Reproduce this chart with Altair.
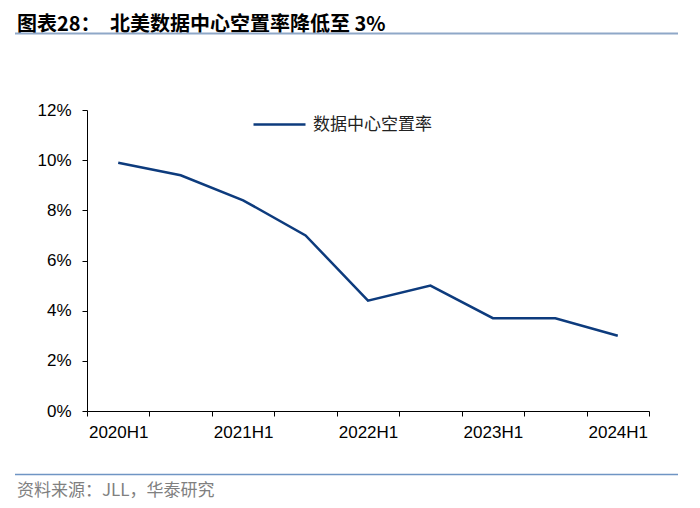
import altair as alt
import pandas as pd

# ---- data ----
periods = ["2020H1", "2020H2", "2021H1", "2021H2", "2022H1",
           "2022H2", "2023H1", "2023H2", "2024H1"]
vacancy = [9.9, 9.4, 8.4, 7.0, 4.4, 5.0, 3.7, 3.7, 3.0]
series_name = "数据中心空置率"
title_prefix = "图表28："
title_main = "北美数据中心空置率降低至 3%"
source_text = "资料来源：JLL，华泰研究"
y_ticks = [0, 2, 4, 6, 8, 10, 12]

df = pd.DataFrame({"period": periods, "vacancy": vacancy, "series": series_name})

W, H = 562, 301
LABEL_FONT = "Liberation Sans"
CJK_FONT = "Noto Sans CJK SC"

line = alt.Chart(df).mark_line(strokeWidth=2.5).encode(
    x=alt.X(
        "period:N",
        sort=periods,
        scale=alt.Scale(type="band", paddingInner=0, paddingOuter=0),
        axis=alt.Axis(
            title=None,
            labelAngle=0,
            labelExpr="indexof(datum.label, 'H1') > 0 ? datum.label : ''",
            tickBand="extent",
            tickSize=5,
            tickColor="#000",
            domainColor="#000",
            labelFont=LABEL_FONT,
            labelFontSize=17,
            labelColor="#000",
            labelPadding=8,
            grid=False,
        ),
    ),
    y=alt.Y(
        "vacancy:Q",
        scale=alt.Scale(domain=[0, 12], nice=False, zero=True),
        axis=alt.Axis(
            title=None,
            values=y_ticks,
            labelExpr="datum.value + '%'",
            tickSize=5,
            tickColor="#000",
            domainColor="#000",
            labelFont=LABEL_FONT,
            labelFontSize=17,
            labelColor="#000",
            labelPadding=11,
            grid=False,
        ),
    ),
    color=alt.Color(
        "series:N",
        scale=alt.Scale(range=["#0D3B7D"]),
        legend=alt.Legend(
            title=None,
            orient="none",
            legendX=165,
            legendY=-13,
            padding=0,
            symbolType="stroke",
            symbolSize=2704,
            symbolStrokeWidth=2.5,
            labelFont=CJK_FONT,
            labelFontSize=17,
            labelColor="#222",
            labelOffset=6,
        ),
    ),
)

title1 = alt.Chart(pd.DataFrame({"t": [title_prefix]})).mark_text(
    align="left", baseline="middle", font=CJK_FONT, fontSize=20,
    fontWeight="bold", color="#000"
).encode(text="t:N", x=alt.value(-70), y=alt.value(-85))

title2 = alt.Chart(pd.DataFrame({"t": [title_main]})).mark_text(
    align="left", baseline="middle", font=CJK_FONT, fontSize=20,
    fontWeight="bold", color="#000"
).encode(text="t:N", x=alt.value(23), y=alt.value(-85))

top_rule = alt.Chart(pd.DataFrame({"a": [0]})).mark_rule(
    color="#8FA8C8", strokeWidth=2
).encode(x=alt.value(-72), x2=alt.value(591), y=alt.value(-76.5))

bottom_rule = alt.Chart(pd.DataFrame({"a": [0]})).mark_rule(
    color="#6F95C4", strokeWidth=1.5
).encode(x=alt.value(-72), x2=alt.value(591), y=alt.value(364.5))

footer = alt.Chart(pd.DataFrame({"t": [source_text]})).mark_text(
    align="left", baseline="middle", font=CJK_FONT, fontSize=17,
    color="#808080"
).encode(text="t:N", x=alt.value(-70), y=alt.value(381))

chart = alt.layer(line, title1, title2, top_rule, bottom_rule, footer).properties(
    width=W,
    height=H,
    autosize=alt.AutoSizeParams(type="none"),
    padding={"left": 79, "top": 102, "right": 40, "bottom": 89},
).configure_view(stroke=None)

chart.save("out.html", embed_options={"renderer": "svg", "actions": False})
